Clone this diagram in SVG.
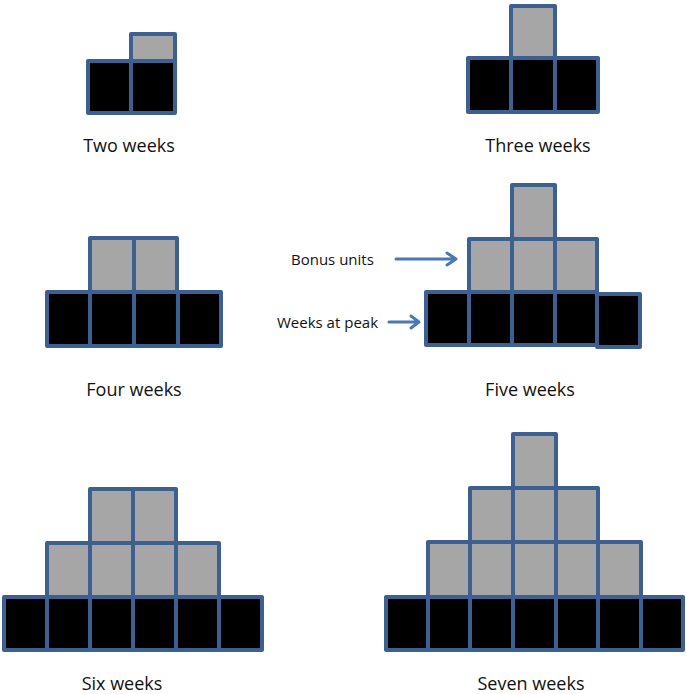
<svg xmlns="http://www.w3.org/2000/svg" width="686" height="694" viewBox="0 0 686 694">
<style>
.b{fill:#000;stroke:#3d6093;stroke-width:4;stroke-linejoin:round}
.g{fill:#a6a6a6;stroke:#3d6093;stroke-width:4;stroke-linejoin:round}
.t{font-family:"Open Sans","Liberation Sans",sans-serif;font-size:18px;fill:#111;text-anchor:middle}
.s{font-family:"Open Sans","Liberation Sans",sans-serif;font-size:15px;fill:#111}
.a{stroke:#4a78b0;stroke-width:3;fill:none;stroke-linecap:round;stroke-linejoin:round}
</style>
<rect width="686" height="694" fill="#fff"/>
<g id="two">
<rect class="g" x="131" y="34" width="44" height="27"/>
<rect class="b" x="88" y="61" width="43" height="52"/>
<rect class="b" x="131" y="61" width="44" height="52"/>
<text class="t" x="129" y="152">Two weeks</text>
</g>
<g id="three">
<rect class="g" x="511" y="6" width="44" height="52"/>
<rect class="b" x="468" y="58" width="43" height="54"/>
<rect class="b" x="511" y="58" width="44" height="54"/>
<rect class="b" x="555" y="58" width="43" height="54"/>
<text class="t" x="538" y="152">Three weeks</text>
</g>
<g id="four">
<rect class="g" x="90" y="238" width="44" height="54"/>
<rect class="g" x="134" y="238" width="43" height="54"/>
<rect class="b" x="47" y="292" width="43" height="54"/>
<rect class="b" x="90" y="292" width="44" height="54"/>
<rect class="b" x="134" y="292" width="44" height="54"/>
<rect class="b" x="178" y="292" width="43" height="54"/>
<text class="t" x="134" y="396">Four weeks</text>
</g>
<g id="five">
<rect class="g" x="512" y="185" width="43" height="54"/>
<rect class="g" x="469" y="239" width="43" height="53"/>
<rect class="g" x="512" y="239" width="43" height="53"/>
<rect class="g" x="555" y="239" width="42" height="53"/>
<rect class="b" x="426" y="292" width="43" height="53"/>
<rect class="b" x="469" y="292" width="43" height="53"/>
<rect class="b" x="512" y="292" width="43" height="53"/>
<rect class="b" x="555" y="292" width="42" height="53"/>
<rect class="b" x="597" y="294" width="43" height="53"/>
<text class="t" x="530" y="396">Five weeks</text>
</g>
<g id="six">
<rect class="g" x="90" y="489" width="43" height="54"/>
<rect class="g" x="133" y="489" width="43" height="54"/>
<rect class="g" x="47" y="543" width="43" height="54"/>
<rect class="g" x="90" y="543" width="43" height="54"/>
<rect class="g" x="133" y="543" width="43" height="54"/>
<rect class="g" x="176" y="543" width="43" height="54"/>
<rect class="b" x="4" y="597" width="43" height="53"/>
<rect class="b" x="47" y="597" width="43" height="53"/>
<rect class="b" x="90" y="597" width="43" height="53"/>
<rect class="b" x="133" y="597" width="43" height="53"/>
<rect class="b" x="176" y="597" width="43" height="53"/>
<rect class="b" x="219" y="597" width="43" height="53"/>
<text class="t" x="122" y="690">Six weeks</text>
</g>
<g id="seven">
<rect class="g" x="513" y="434" width="43" height="54"/>
<rect class="g" x="470" y="488" width="43" height="54"/>
<rect class="g" x="513" y="488" width="43" height="54"/>
<rect class="g" x="556" y="488" width="42" height="54"/>
<rect class="g" x="428" y="542" width="42" height="55"/>
<rect class="g" x="470" y="542" width="43" height="55"/>
<rect class="g" x="513" y="542" width="43" height="55"/>
<rect class="g" x="556" y="542" width="42" height="55"/>
<rect class="g" x="598" y="542" width="43" height="55"/>
<rect class="b" x="386" y="597" width="42" height="53"/>
<rect class="b" x="428" y="597" width="42" height="53"/>
<rect class="b" x="470" y="597" width="43" height="53"/>
<rect class="b" x="513" y="597" width="43" height="53"/>
<rect class="b" x="556" y="597" width="42" height="53"/>
<rect class="b" x="598" y="597" width="43" height="53"/>
<rect class="b" x="641" y="597" width="42" height="53"/>
<text class="t" x="531" y="690">Seven weeks</text>
</g>
<g id="labels">
<text class="s" x="291" y="265">Bonus units</text>
<text class="s" x="277" y="328">Weeks at peak</text>
</g>
<g id="connectors">
<path class="a" d="M396 259 H455 M447 253 L456 259 L447 265"/>
<path class="a" d="M389 322 H418 M411 316 L419 322 L411 328"/>
</g>
</svg>
